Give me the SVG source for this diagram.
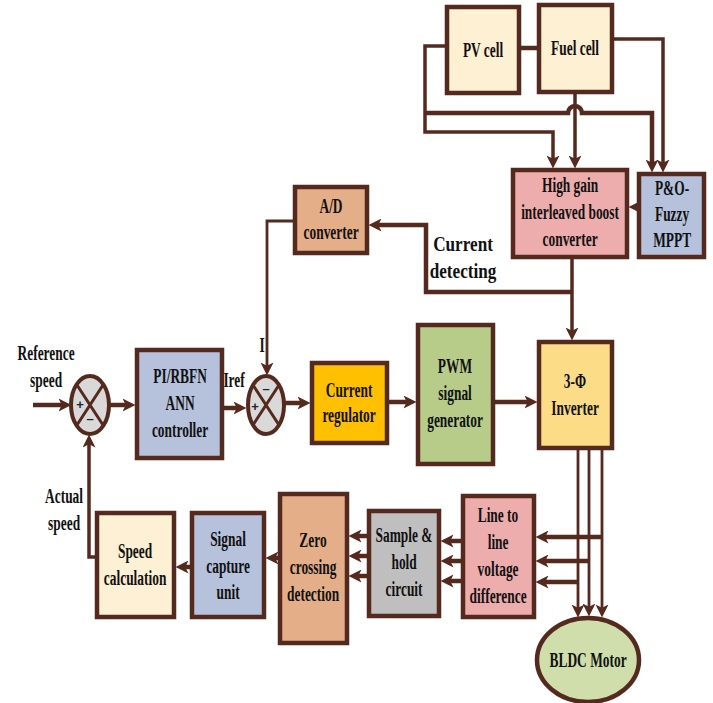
<svg xmlns="http://www.w3.org/2000/svg" width="713" height="703" viewBox="0 0 713 703">
<style>
.b{stroke:#552a1e;stroke-width:4.5}
.c{fill:none;stroke:#552a1e;stroke-width:4.5}
.c3{fill:none;stroke:#552a1e;stroke-width:3.5}
.c2{fill:none;stroke:#552a1e;stroke-width:2.8}
.t{font-family:"Liberation Serif","Times New Roman",serif;font-weight:bold;font-size:20px;text-anchor:middle;fill:#111;transform-box:fill-box;transform-origin:center;transform:scaleX(0.67)}
.tl{font-family:"Liberation Serif","Times New Roman",serif;font-weight:bold;font-size:22px;text-anchor:middle;fill:#111;transform-box:fill-box;transform-origin:center;transform:scaleX(0.78)}
.s{font-family:"Liberation Sans",Arial,sans-serif;font-weight:bold;font-size:13px;text-anchor:middle;fill:#222}
</style>
<defs>
<marker id="a" viewBox="0 0 12 12" refX="6" refY="6" markerWidth="13" markerHeight="13" markerUnits="userSpaceOnUse" orient="auto"><path d="M0,0 L12,6 L0,12 L3,6 z" fill="#552a1e"/></marker>
</defs>
<rect width="713" height="703" fill="#fff"/>
<g id="connectors">
<path class="c" d="M33,405 H65" marker-end="url(#a)"/>
<path class="c" d="M109,405 H129" marker-end="url(#a)"/>
<path class="c" d="M222,408 H240" marker-end="url(#a)"/>
<path class="c" d="M284,403 H304" marker-end="url(#a)"/>
<path class="c" d="M387,402 H410" marker-end="url(#a)"/>
<path class="c" d="M493,402 H531" marker-end="url(#a)"/>
<path class="c2" d="M578,448 V611" marker-end="url(#a)"/>
<path class="c2" d="M589,448 V610" marker-end="url(#a)"/>
<path class="c2" d="M602,448 V611" marker-end="url(#a)"/>
<path class="c" d="M602,537 H542" marker-end="url(#a)"/>
<path class="c" d="M589,561 H542" marker-end="url(#a)"/>
<path class="c" d="M577,582 H542" marker-end="url(#a)"/>
<path class="c" d="M463,541 H447" marker-end="url(#a)"/>
<path class="c" d="M463,561 H447" marker-end="url(#a)"/>
<path class="c" d="M463,581 H447" marker-end="url(#a)"/>
<path class="c" d="M369,536 H355" marker-end="url(#a)"/>
<path class="c" d="M369,556 H355" marker-end="url(#a)"/>
<path class="c" d="M369,576 H355" marker-end="url(#a)"/>
<path class="c" d="M280,558 H272" marker-end="url(#a)"/>
<path class="c" d="M192,567 H182" marker-end="url(#a)"/>
<path class="c3" d="M97,557 H89 V441" marker-end="url(#a)"/>
<path class="c3" d="M572,257 V334" marker-end="url(#a)"/>
<path class="c" d="M572,292 H426 V225 H375" marker-end="url(#a)"/>
<path class="c2" d="M295,221 H267 V369" marker-end="url(#a)"/>
<path class="c" d="M639,207 H635" marker-end="url(#a)"/>
<path class="c3" d="M447,46 H425 V132 H553 V162" marker-end="url(#a)"/>
<path class="c" d="M425,113 H568 A7,7 0 0 1 582,113 H652 V166" marker-end="url(#a)"/>
<path class="c3" d="M575,92 V162" marker-end="url(#a)"/>
<path class="c3" d="M612,39 H663 V166" marker-end="url(#a)"/>
<path class="c" d="M519,48 H539"/>
</g>
<g id="pv"><rect class="b" x="447" y="7" width="72" height="86" fill="#fdf0d3"/><text class="t" x="483" y="57">PV cell</text></g>
<g id="fuel"><rect class="b" x="539" y="5" width="73" height="87" fill="#fdf0d3"/><text class="t" x="575" y="55">Fuel cell</text></g>
<g id="boost"><rect class="b" x="513" y="170" width="114" height="87" fill="#eeadad"/><text class="t" x="570" y="192">High gain</text><text class="t" x="570" y="219">interleaved boost</text><text class="t" x="570" y="246">converter</text></g>
<g id="mppt"><rect class="b" x="639" y="174" width="65" height="83" fill="#b6c1dc"/><text class="t" x="672" y="195">P&amp;O-</text><text class="t" x="672" y="221">Fuzzy</text><text class="t" x="672" y="247">MPPT</text></g>
<g id="ad"><rect class="b" x="295" y="187" width="72" height="66" fill="#e4ae88"/><text class="t" x="331" y="213">A/D</text><text class="t" x="331" y="239">converter</text></g>
<g id="pi"><rect class="b" x="137" y="350" width="85" height="108" fill="#b6c2dc"/><text class="t" x="180" y="383">PI/RBFN</text><text class="t" x="180" y="410">ANN</text><text class="t" x="180" y="437">controller</text></g>
<g id="sum1"><ellipse cx="90" cy="405" rx="19" ry="29" fill="#d9d9d9" stroke="#552a1e" stroke-width="4"/><path d="M77,385 L103,425 M103,385 L77,425" stroke="#552a1e" stroke-width="3"/><text class="s" x="80" y="409">+</text><text class="s" x="90" y="423">–</text></g>
<g id="sum2"><ellipse cx="266" cy="405" rx="18" ry="29" fill="#d9d9d9" stroke="#552a1e" stroke-width="4"/><path d="M253,385 L279,425 M279,385 L253,425" stroke="#552a1e" stroke-width="3"/><text class="s" x="266" y="393">–</text><text class="s" x="255" y="411">+</text></g>
<g id="curreg"><rect class="b" x="312" y="363" width="75" height="80" fill="#fec000"/><text class="t" x="349" y="397">Current</text><text class="t" x="349" y="422">regulator</text></g>
<g id="pwm"><rect class="b" x="418" y="325" width="75" height="139" fill="#b8cc8a"/><text class="t" x="455" y="373">PWM</text><text class="t" x="455" y="400">signal</text><text class="t" x="455" y="427">generator</text></g>
<g id="inverter"><rect class="b" x="539" y="342" width="73" height="106" fill="#fddc87"/><text class="t" x="575" y="388">3-Φ</text><text class="t" x="575" y="415">Inverter</text></g>
<g id="ltl"><rect class="b" x="463" y="496" width="71" height="121" fill="#eeadad"/><text class="t" x="498" y="522">Line to</text><text class="t" x="498" y="549">line</text><text class="t" x="498" y="576">voltage</text><text class="t" x="498" y="603">difference</text></g>
<g id="sh"><rect class="b" x="369" y="511" width="70" height="105" fill="#bfbfbf"/><text class="t" x="404" y="542">Sample &amp;</text><text class="t" x="404" y="569">hold</text><text class="t" x="404" y="596">circuit</text></g>
<g id="zero"><rect class="b" x="280" y="494" width="67" height="149" fill="#e4ae88"/><text class="t" x="313" y="547">Zero</text><text class="t" x="313" y="574">crossing</text><text class="t" x="313" y="601">detection</text></g>
<g id="capture"><rect class="b" x="192" y="513" width="72" height="104" fill="#b6c2dc"/><text class="t" x="228" y="546">Signal</text><text class="t" x="228" y="573">capture</text><text class="t" x="228" y="599">unit</text></g>
<g id="speed"><rect class="b" x="97" y="513" width="77" height="104" fill="#fef0d4"/><text class="t" x="135" y="558">Speed</text><text class="t" x="135" y="585">calculation</text></g>
<g id="motor"><ellipse cx="588" cy="660" rx="51" ry="42" fill="#cfdeaa" stroke="#552a1e" stroke-width="4.5"/><text class="t" x="588" y="667">BLDC Motor</text></g>
<g id="labels">
<text class="t" x="46" y="360">Reference</text><text class="t" x="46" y="387">speed</text>
<text class="t" x="234" y="387">Iref</text>
<text class="t" x="262" y="352">I</text>
<text class="t" x="64" y="503">Actual</text><text class="t" x="64" y="530">speed</text>
<text class="tl" x="463" y="251">Current</text><text class="tl" x="463" y="278">detecting</text>
</g>
</svg>
